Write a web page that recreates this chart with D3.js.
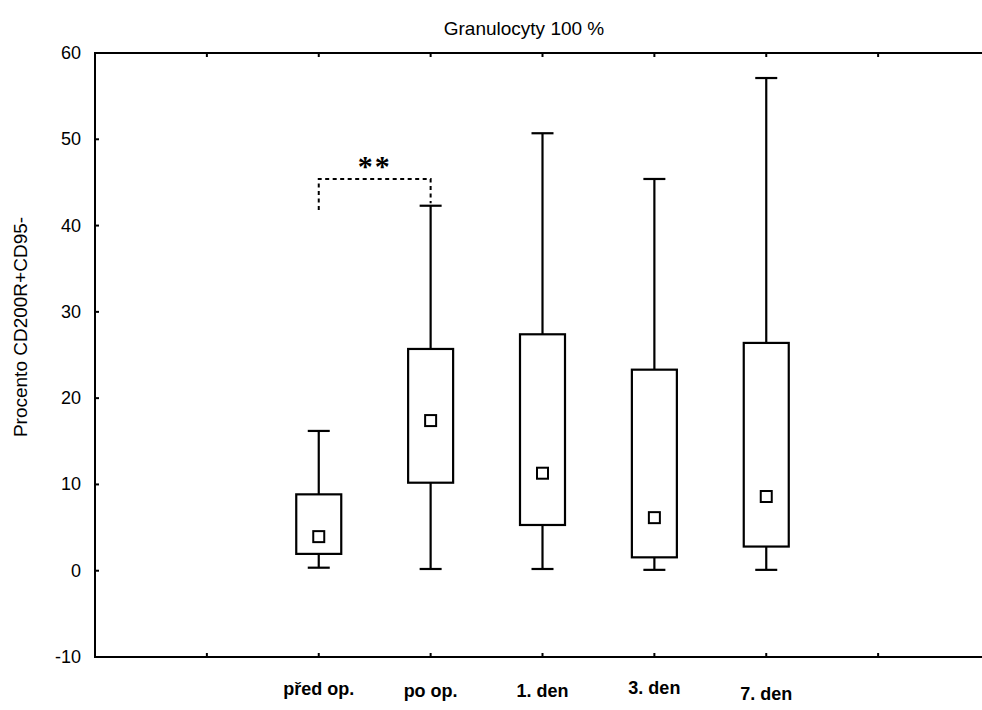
<!DOCTYPE html>
<html>
<head>
<meta charset="utf-8">
<script src="https://cdn.jsdelivr.net/npm/d3@7"></script>
<style>
  html, body { margin: 0; padding: 0; background: #fff; overflow: hidden; }
  svg { display: block; overflow: hidden; }
  text { font-family: "Liberation Sans", Arial, sans-serif; fill: #000; }
</style>
</head>
<body>
<svg id="chart" width="982" height="710"></svg>
<script>
// Box-plot statistics per sampling time (percent CD200R+CD95- granulocytes)
const categories  = ["před op.", "po op.", "1. den", "3. den", "7. den"];
const whiskerLow  = [0.35, 0.2, 0.2, 0.1, 0.1];
const q1          = [1.95, 10.2, 5.3, 1.55, 2.8];
const median      = [3.95, 17.4, 11.3, 6.15, 8.6];
const q3          = [8.85, 25.7, 27.4, 23.3, 26.4];
const whiskerHigh = [16.2, 42.3, 50.7, 45.4, 57.1];

// Y-axis ticks
const yTicks = [-10, 0, 10, 20, 30, 40, 50, 60];

// Significance bracket between "před op." and "po op."
const sigFrom = 0, sigTo = 1;
const sigLevel = 45.4, sigLeftFoot = 41.8, sigRightFoot = 42.6;
const sigLabel = "**";

// Small vertical nudges of the category captions (px)
const labelShift = [0, 2, 2, -1, 5];

const W = 982;
const svg = d3.select("#chart");

// x: slot positions 0..8, categories occupy slots 2..6, ticks at slots 1..7
const x = d3.scaleLinear().domain([0, 8]).range([95, 990]);
const y = d3.scaleLinear().domain([-10, 60]).range([657, 53]);
const slot = i => i + 2;

const boxW = 45, capW = 22, medS = 11;
const lw = 2.2;

// Plot frame: left, top and bottom edges (right edge lies beyond the page)
const g = svg.append("g");
const frame = d3.path();
frame.moveTo(W, y(60));
frame.lineTo(x(0), y(60));
frame.lineTo(x(0), y(-10));
frame.lineTo(W, y(-10));
g.append("path")
  .attr("d", frame.toString())
  .attr("fill", "none").attr("stroke", "#000").attr("stroke-width", 2);

const xTickSlots = d3.range(1, 8);
// bottom ticks (pointing up) and top ticks (pointing down)
g.selectAll("line.xb").data(xTickSlots).join("line")
  .attr("x1", d => x(d)).attr("x2", d => x(d))
  .attr("y1", y(-10)).attr("y2", y(-10) - 4)
  .attr("stroke", "#000").attr("stroke-width", 2);
g.selectAll("line.xt").data(xTickSlots).join("line")
  .attr("x1", d => x(d)).attr("x2", d => x(d))
  .attr("y1", y(60)).attr("y2", y(60) + 4)
  .attr("stroke", "#000").attr("stroke-width", 2);

// left ticks (pointing right) and labels
g.selectAll("line.yl").data(yTicks.slice(1, -1)).join("line")
  .attr("x1", x(0)).attr("x2", x(0) + 4)
  .attr("y1", d => y(d)).attr("y2", d => y(d))
  .attr("stroke", "#000").attr("stroke-width", 2);
g.selectAll("text.ytl").data(yTicks).join("text")
  .attr("x", 81).attr("y", d => y(d))
  .attr("dy", "0.33em")
  .attr("text-anchor", "end")
  .style("font-size", "18px")
  .text(d => d);

// Category captions under the frame
g.selectAll("text.cat").data(categories).join("text")
  .attr("x", (d, i) => x(slot(i)))
  .attr("y", (d, i) => 695 + labelShift[i])
  .attr("text-anchor", "middle")
  .style("font-size", "18px")
  .style("font-weight", "bold")
  .text(d => d);

// Title and y-axis title
svg.append("text")
  .attr("x", 524).attr("y", 35)
  .attr("text-anchor", "middle")
  .style("font-size", "19px")
  .text("Granulocyty 100 %");

svg.append("text")
  .attr("transform", "translate(27,327) rotate(-90)")
  .attr("text-anchor", "middle")
  .style("font-size", "19px")
  .text("Procento CD200R+CD95-");

// Boxes with whiskers and median squares
const boxes = svg.append("g").selectAll("g.box").data(categories).join("g");

boxes.append("line") // upper whisker
  .attr("x1", (d, i) => x(slot(i))).attr("x2", (d, i) => x(slot(i)))
  .attr("y1", (d, i) => y(q3[i])).attr("y2", (d, i) => y(whiskerHigh[i]))
  .attr("stroke", "#000").attr("stroke-width", lw);
boxes.append("line") // lower whisker
  .attr("x1", (d, i) => x(slot(i))).attr("x2", (d, i) => x(slot(i)))
  .attr("y1", (d, i) => y(q1[i])).attr("y2", (d, i) => y(whiskerLow[i]))
  .attr("stroke", "#000").attr("stroke-width", lw);
boxes.append("line") // upper cap
  .attr("x1", (d, i) => x(slot(i)) - capW / 2).attr("x2", (d, i) => x(slot(i)) + capW / 2)
  .attr("y1", (d, i) => y(whiskerHigh[i])).attr("y2", (d, i) => y(whiskerHigh[i]))
  .attr("stroke", "#000").attr("stroke-width", lw);
boxes.append("line") // lower cap
  .attr("x1", (d, i) => x(slot(i)) - capW / 2).attr("x2", (d, i) => x(slot(i)) + capW / 2)
  .attr("y1", (d, i) => y(whiskerLow[i])).attr("y2", (d, i) => y(whiskerLow[i]))
  .attr("stroke", "#000").attr("stroke-width", lw);
boxes.append("rect") // interquartile box
  .attr("x", (d, i) => x(slot(i)) - boxW / 2)
  .attr("y", (d, i) => y(q3[i]))
  .attr("width", boxW)
  .attr("height", (d, i) => y(q1[i]) - y(q3[i]))
  .attr("fill", "#fff").attr("stroke", "#000").attr("stroke-width", lw);
boxes.append("rect") // median marker
  .attr("x", (d, i) => x(slot(i)) - medS / 2)
  .attr("y", (d, i) => y(median[i]) - medS / 2)
  .attr("width", medS).attr("height", medS)
  .attr("fill", "#fff").attr("stroke", "#000").attr("stroke-width", 2);

// Significance bracket
const xa = x(slot(sigFrom)), xb = x(slot(sigTo));
const bracket = d3.path();
bracket.moveTo(xa, y(sigLeftFoot));
bracket.lineTo(xa, y(sigLevel));
bracket.lineTo(xb, y(sigLevel));
bracket.lineTo(xb, y(sigRightFoot));
svg.append("path")
  .attr("d", bracket.toString())
  .attr("fill", "none").attr("stroke", "#000")
  .attr("stroke-width", 2).attr("stroke-dasharray", "4,3.5");
svg.append("text")
  .attr("x", (xa + xb) / 2).attr("y", y(sigLevel) - 3)
  .attr("text-anchor", "middle")
  .style("font-family", "'Liberation Serif', 'Times New Roman', serif")
  .style("font-weight", "bold")
  .style("font-size", "30px")
  .style("letter-spacing", "2px")
  .text(sigLabel);
</script>
</body>
</html>
